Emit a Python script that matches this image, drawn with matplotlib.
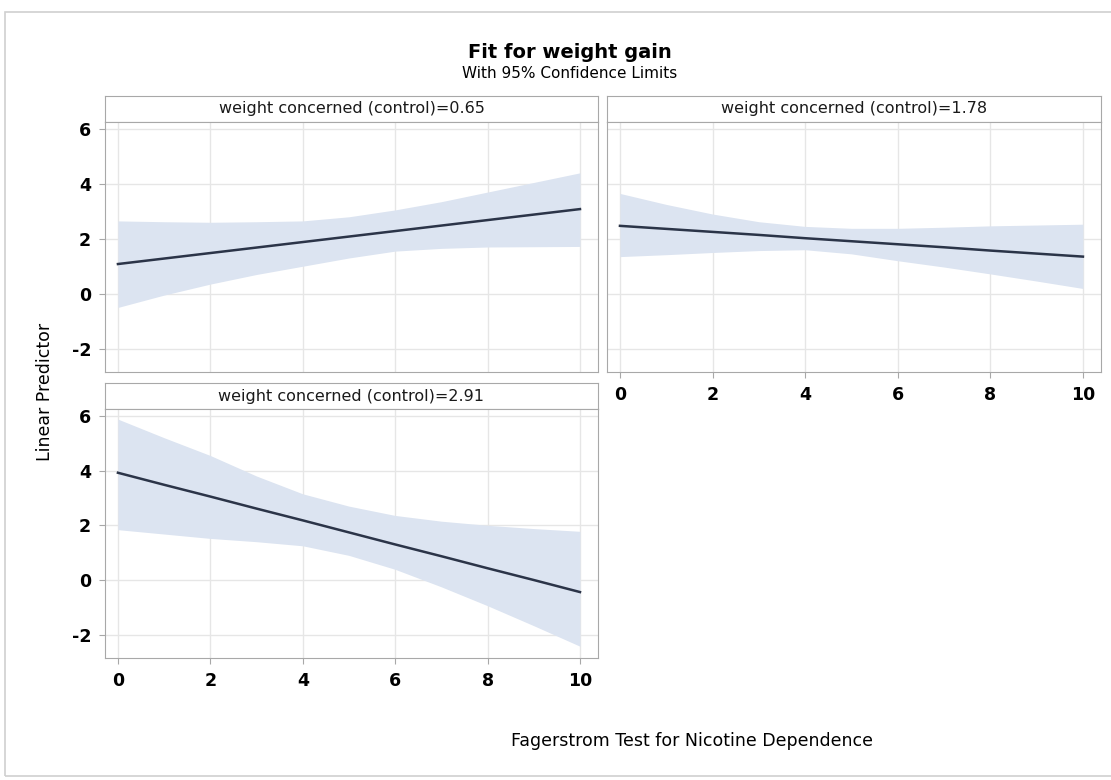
import matplotlib.pyplot as plt
from matplotlib.patches import Rectangle

plt.rcParams['axes.unicode_minus'] = False

# data
x = [0, 1, 2, 3, 4, 5, 6, 7, 8, 9, 10]
panel_titles = ['weight concerned (control)=0.65',
                'weight concerned (control)=1.78',
                'weight concerned (control)=2.91']
fit_065 = [1.08, 1.28, 1.48, 1.68, 1.88, 2.08, 2.28, 2.48, 2.68, 2.88, 3.08]
lower_065 = [-0.5, -0.05, 0.35, 0.7, 1.0, 1.3, 1.55, 1.65, 1.7, 1.71, 1.72]
upper_065 = [2.65, 2.62, 2.6, 2.62, 2.65, 2.8, 3.05, 3.35, 3.7, 4.05, 4.4]
fit_178 = [2.47, 2.36, 2.25, 2.14, 2.02, 1.91, 1.8, 1.69, 1.57, 1.46, 1.35]
lower_178 = [1.35, 1.42, 1.5, 1.57, 1.6, 1.45, 1.2, 0.97, 0.72, 0.46, 0.19]
upper_178 = [3.65, 3.25, 2.9, 2.62, 2.45, 2.38, 2.38, 2.42, 2.47, 2.5, 2.53]
fit_291 = [3.92, 3.48, 3.05, 2.61, 2.18, 1.74, 1.3, 0.87, 0.43, 0.0, -0.44]
lower_291 = [1.84, 1.68, 1.52, 1.4, 1.25, 0.9, 0.39, -0.25, -0.94, -1.67, -2.42]
upper_291 = [5.88, 5.2, 4.55, 3.8, 3.15, 2.7, 2.36, 2.15, 2.0, 1.88, 1.78]
xticks = [0, 2, 4, 6, 8, 10]
yticks = [-2, 0, 2, 4, 6]

W, H = 1111, 780
fig = plt.figure(figsize=(W / 100, H / 100), dpi=100)
fig.patch.set_facecolor('white')

band_color = '#dce4f1'
line_color = '#2b3448'
edge_color = '#a8a8a8'
grid_color = '#e6e6e6'


def box(l, t, r, b):
    return [l / W, 1 - b / H, (r - l) / W, (b - t) / H]


# outer frame
fig.patches.append(Rectangle((5 / W, 1 - 776 / H), 1110 / W, 764 / H,
                             transform=fig.transFigure, fill=False,
                             edgecolor='#d0d0d0', linewidth=1.2))

panels = [
    (105, 96, 598, 372, fit_065, lower_065, upper_065, panel_titles[0], False, True),
    (607, 96, 1101, 372, fit_178, lower_178, upper_178, panel_titles[1], True, False),
    (105, 383, 598, 658, fit_291, lower_291, upper_291, panel_titles[2], True, True),
]

for l, t, r, b, fit, lo, up, title, show_x, show_y in panels:
    hdr = 26
    hax = fig.add_axes(box(l, t, r, t + hdr))
    hax.set_xticks([])
    hax.set_yticks([])
    for s in hax.spines.values():
        s.set_color(edge_color)
    hax.text(0.5, 0.5, title, ha='center', va='center', fontsize=11.5,
             color='#1a1a1a', transform=hax.transAxes)

    ax = fig.add_axes(box(l, t + hdr, r, b))
    ax.fill_between(x, lo, up, color=band_color, linewidth=0)
    ax.plot(x, fit, color=line_color, linewidth=1.8)
    ax.set_xlim(-0.28, 10.39)
    ax.set_ylim(-2.85, 6.25)
    ax.set_xticks(xticks)
    ax.set_yticks(yticks)
    ax.grid(True, color=grid_color, linewidth=1)
    ax.set_axisbelow(True)
    for s in ax.spines.values():
        s.set_color(edge_color)
    ax.tick_params(length=4, color=edge_color, labelsize=12.5, pad=6)
    if not show_x:
        ax.tick_params(axis='x', labelbottom=False, length=0)
    if not show_y:
        ax.tick_params(axis='y', labelleft=False, length=0)
    for lab in ax.get_xticklabels() + ax.get_yticklabels():
        lab.set_fontweight('bold')

fig.text(570 / W, 1 - 52 / H, 'Fit for weight gain', ha='center', va='center',
         fontsize=14, fontweight='bold')
fig.text(570 / W, 1 - 73 / H, 'With 95% Confidence Limits', ha='center',
         va='center', fontsize=11)
fig.text(45 / W, 1 - 392 / H, 'Linear Predictor', ha='center', va='center',
         rotation=90, fontsize=12.5)
fig.text(692 / W, 1 - 741 / H, 'Fagerstrom Test for Nicotine Dependence',
         ha='center', va='center', fontsize=12.5)

fig.savefig('out.png', dpi=100)
